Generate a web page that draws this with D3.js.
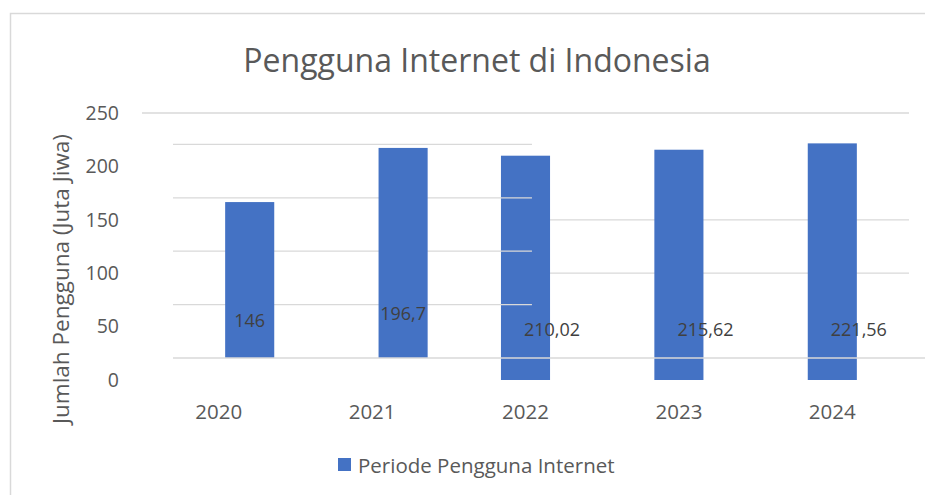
<!doctype html>
<html>
  <head>
    <script src="https://cdn.jsdelivr.net/npm/d3@7"></script>
    <style>
      body { margin: 0; background: #fff; overflow: hidden; }
      svg { display: block; }
      text { font-family: "Open Sans", sans-serif; fill: #595959; }
    </style>
  </head>
  <body>
    <script>
    // data
    var years = ["2020", "2021", "2022", "2023", "2024"];
    var users = [146, 196.7, 210.02, 215.62, 221.56];
    var userLabels = ["146", "196,7", "210,02", "215,62", "221,56"];
    var yTicks = [0, 50, 100, 150, 200, 250];
    var seriesName = "Periode Pengguna Internet";

    var width = 925;
    var height = 495;

    var data = years.map(function(y, i) {
      return {year: y, value: users[i], label: userLabels[i], i: i};
    });

    var svg = d3.select("body")
              .append("svg")
              .attr("width", width)
              .attr("height", height);

    // chart frame (only top and left edges are in view)
    svg.append("path")
      .attr("d", "M10.5," + height + "V13.5H" + width)
      .attr("fill", "none")
      .attr("stroke", "#d9d9d9")
      .attr("stroke-width", 1.5);

    var xScale = d3.scaleBand()
                  .domain(years)
                  .range([142, 909])
                  .paddingInner(0.68)
                  .paddingOuter(0.34);

    var yScale = d3.scaleLinear()
                  .domain([0, 250])
                  .range([380, 113]);

    var bw = xScale.bandwidth();

//the render is broken: the left part of the plot is drawn shifted
    var shift = {x: 31, y: -22};

//main layer
    var main = svg.append("g");

    main.append("line")
      .attr("x1", 142).attr("x2", 909)
      .attr("y1", yScale(250)).attr("y2", yScale(250))
      .attr("stroke", "#d9d9d9").attr("stroke-width", 1.3);

    main.selectAll(".grid")
      .data([100, 150])
      .enter()
        .append("line")
        .attr("class", "grid")
        .attr("x1", xScale("2022") + bw).attr("x2", 909)
        .attr("y1", function(d) {return yScale(d);})
        .attr("y2", function(d) {return yScale(d);})
        .attr("stroke", "#d9d9d9").attr("stroke-width", 1.3);

    var right = data.filter(function(d) {return d.i >= 2;});

    main.selectAll(".bar")
      .data(right)
      .enter()
        .append("rect")
        .attr("class", "bar")
        .attr("x", function(d) {return xScale(d.year);})
        .attr("y", function(d) {return yScale(d.value);})
        .attr("width", bw)
        .attr("height", function(d) {return yScale(0) - yScale(d.value);})
        .attr("fill", "#4472c4");

//shifted layer
    var ghost = svg.append("g")
      .attr("transform", "translate(" + shift.x + "," + shift.y + ")");

    ghost.selectAll(".grid")
      .data([50, 100, 150, 200])
      .enter()
        .append("line")
        .attr("class", "grid")
        .attr("x1", 142).attr("x2", xScale("2022"))
        .attr("y1", function(d) {return yScale(d);})
        .attr("y2", function(d) {return yScale(d);})
        .attr("stroke", "#d9d9d9").attr("stroke-width", 1.3);

    var left = data.filter(function(d) {return d.i < 2;});

    ghost.selectAll(".bar")
      .data(left)
      .enter()
        .append("rect")
        .attr("class", "bar")
        .attr("x", function(d) {return xScale(d.year);})
        .attr("y", function(d) {return yScale(d.value);})
        .attr("width", bw)
        .attr("height", function(d) {return yScale(0) - yScale(d.value);})
        .attr("fill", "#4472c4");

    ghost.append("line")
      .attr("x1", 142).attr("x2", width - shift.x)
      .attr("y1", yScale(0)).attr("y2", yScale(0))
      .attr("stroke", "#d9d9d9").attr("stroke-width", 1.3);

    ghost.selectAll(".lbl")
      .data(left)
      .enter()
        .append("text")
        .attr("class", "lbl")
        .attr("x", function(d) {return xScale(d.year) + bw / 2;})
        .attr("y", function(d) {return yScale(0) - 31 - d.i * 7;})
        .attr("text-anchor", "middle")
        .style("font-size", "18px")
        .style("fill", "#404040")
        .text(function(d) {return d.label;});

    main.selectAll(".lbl")
      .data(right)
      .enter()
        .append("text")
        .attr("class", "lbl")
        .attr("x", function(d) {return xScale(d.year) + bw + 2;})
        .attr("y", yScale(0) - 44)
        .attr("text-anchor", "middle")
        .style("font-size", "18px")
        .style("fill", "#404040")
        .text(function(d) {return d.label;});

//axes
    var yAxis = d3.axisLeft(yScale)
                  .tickValues(yTicks)
                  .tickSize(0)
                  .tickPadding(23);

    var gy = svg.append("g")
      .attr("transform", "translate(142,0)")
      .call(yAxis);
    gy.select(".domain").remove();
    gy.selectAll("text")
      .attr("font-family", null)
      .style("font-size", "19.5px")
      .style("fill", "#595959");

    var xAxis = d3.axisBottom(xScale)
                  .tickSize(0)
                  .tickPadding(24);

    var gx = svg.append("g")
      .attr("transform", "translate(0," + yScale(0) + ")")
      .call(xAxis);
    gx.select(".domain").remove();
    gx.selectAll("text")
      .attr("font-family", null)
      .style("font-size", "20.5px")
      .style("fill", "#595959");

//titles
    svg.append("text")
      .attr("x", 477)
      .attr("y", 72)
      .attr("text-anchor", "middle")
      .style("font-size", "32px")
      .text("Pengguna Internet di Indonesia");

    svg.append("text")
      .attr("transform", "translate(69,279) rotate(-90)")
      .attr("text-anchor", "middle")
      .style("font-size", "22.5px")
      .text("Jumlah Pengguna (Juta Jiwa)");

//legend
    svg.append("rect")
      .attr("x", 338)
      .attr("y", 458)
      .attr("width", 13)
      .attr("height", 13)
      .attr("fill", "#4472c4");

    svg.append("text")
      .attr("x", 358)
      .attr("y", 473)
      .style("font-size", "20.5px")
      .text(seriesName);
    </script>
  </body>
</html>
